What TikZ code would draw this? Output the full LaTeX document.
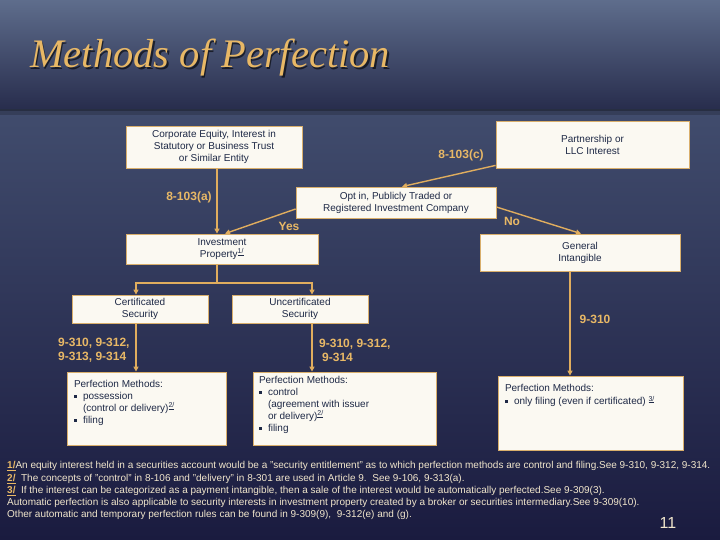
\documentclass[tikz,border=0pt]{standalone}
\usepackage{fontspec}
\setmainfont{Liberation Sans}
\newfontfamily\titlefont{Liberation Serif}
\usetikzlibrary{arrows.meta,positioning}

\definecolor{gold}{HTML}{E8B866}
\definecolor{wire}{HTML}{E0AD5E}
\definecolor{ink}{HTML}{1E2946}
\definecolor{paper}{HTML}{FBF9F2}
\definecolor{rim}{HTML}{D9AF6C}
\definecolor{cream}{HTML}{F1E6CC}
\definecolor{bannertop}{HTML}{5E6D8C}
\definecolor{bannerbot}{HTML}{282D4D}
\definecolor{bgtop}{HTML}{4B5979}
\definecolor{bgbot}{HTML}{1A1B3F}

\newcommand{\boxfont}{\fontsize{10bp}{12bp}\selectfont}
\newcommand{\lblfont}{\bfseries\fontsize{12bp}{14bp}\selectfont}
\newcommand{\notefont}{\fontsize{10bp}{12.2bp}\selectfont}
\newcommand{\blt}{\makebox[9bp][l]{\rule[1.5bp]{3bp}{3bp}}}
\newcommand{\ind}{\hspace*{9bp}}
\newcommand{\fnsup}[1]{\textsuperscript{\underline{#1}}}
\newcommand{\fnmark}[1]{{\bfseries\color{gold}\underline{#1}}}
\newcommand{\pmbody}[4]{\parbox[c][#1][t]{#2}{\raggedright\vspace*{#3}\strut#4}}

\begin{document}
\begin{tikzpicture}[x=1bp,y=-1bp]
  \tikzset{every node/.style={inner sep=0pt}}
  \tikzset{frame/.style={draw=rim, line width=0.8bp, fill=paper, text=ink, font=\boxfont}}
  \tikzset{box/.style={frame, align=center}}
  \tikzset{pmbox/.style={frame}}
  \tikzset{lbl/.style={text=gold, font=\lblfont, align=left}}
  \tikzset{link/.style={wire, line width=1.4bp}}
  \tikzset{arr/.style={link, -{Triangle[length=5bp,width=5bp]}}}

  \useasboundingbox (0,0) rectangle (720,540);
  \shade[top color=bgtop, bottom color=bgbot] (0,0) rectangle (720,540);
  \fill[black, opacity=.18] (0,108) rectangle (720,115);
  \fill[black, opacity=.25] (0,108) rectangle (720,111);
  \shade[top color=bannertop, bottom color=bannerbot] (0,0) rectangle (720,109);

  \node[anchor=base west, text=black, opacity=.6, font=\titlefont\itshape\fontsize{40.5bp}{40.5bp}\selectfont] (titleshadow) at (31.5,69.5) {Methods of Perfection};
  \node[anchor=base west, text=gold, font=\titlefont\itshape\fontsize{40.5bp}{40.5bp}\selectfont] (title) at (30,68) {Methods of Perfection};

  \node[box, minimum width=176bp, minimum height=42bp] (corp) at (214,147) {Corporate Equity, Interest in\\Statutory or Business Trust\\or Similar Entity};
  \node[box, minimum width=193bp, minimum height=47bp] (part) at (592.5,144.5) {Partnership or\\ LLC Interest};
  \node[box, minimum width=200bp, minimum height=31bp] (optin) at (396,202.5) {Opt in, Publicly Traded or\\Registered Investment Company};
  \node[box, minimum width=192bp, minimum height=30bp] (invp) at (222,249) {Investment\\Property\fnsup{1/}};
  \node[box, minimum width=200bp, minimum height=37bp] (genint) at (580,252.5) {General\\Intangible};
  \node[box, minimum width=136bp, minimum height=28bp] (cert) at (140,309) {Certificated\\Security};
  \node[box, minimum width=136bp, minimum height=28bp] (uncert) at (300,309) {Uncertificated\\Security};

  \node[pmbox, minimum width=159bp] (pm1) at (146.5,408.5) {\pmbody{73bp}{145bp}{7bp}{Perfection Methods:\\\blt possession\\\ind(control or delivery)\fnsup{2/}\\\blt filing}};
  \node[pmbox, minimum width=183bp] (pm2) at (344.5,408.5) {\pmbody{73bp}{171bp}{3bp}{Perfection Methods:\\\blt control\\\ind(agreement with issuer\\\ind or delivery)\fnsup{2/}\\\blt filing}};
  \node[pmbox, minimum width=185bp] (pm3) at (590.5,413) {\pmbody{74bp}{171bp}{7bp}{Perfection Methods:\\\blt only filing (even if certificated) \fnsup{3/}}};

  \coordinate (stem) at (217,283);

  \draw[arr] (corp.south -| stem) -- (invp.north -| stem);
  \draw[arr] ([yshift=3bp]part.south west) -- ([xshift=6bp]optin.north);
  \draw[arr] ([yshift=-6.5bp]optin.west) -- ([xshift=3bp]invp.north);
  \draw[arr] ([yshift=-4.5bp]optin.east) -- ([xshift=1bp]genint.north);
  \draw[link] (invp.south -| stem) -- (stem);
  \draw[arr] (stem) -| ([xshift=-4bp]cert.north);
  \draw[arr] (stem) -| ([xshift=12bp]uncert.north);
  \draw[arr] ([xshift=-4bp]cert.south) -- ([xshift=-4bp]cert.south |- pm1.north);
  \draw[arr] ([xshift=12bp]uncert.south) -- ([xshift=12bp]uncert.south |- pm2.north);
  \draw[arr] ([xshift=-10bp]genint.south) -- ([xshift=-10bp]genint.south |- pm3.north);

  \node[lbl] (lc) at (461,155) {8-103(c)};
  \node[lbl] (la) at (189,197) {8-103(a)};
  \node[lbl] (lyes) at (289,226) {Yes};
  \node[lbl] (lno) at (512,221) {No};
  \node[lbl, anchor=west] (lcert) at (58,350) {9-310, 9-312,\\9-313, 9-314};
  \node[lbl, anchor=west] (luncert) at (319,350) {9-310, 9-312,\\\hspace*{3bp}9-314};
  \node[lbl] (lgen) at (595,319) {9-310};

  \node[anchor=north west, text=cream, font=\notefont, align=left] (notes) at (7,461.5) {%
    \fnmark{1/}An equity interest held in a securities account would be a "security entitlement" as to which perfection methods are control and filing.See 9-310, 9-312, 9-314.\\
    \fnmark{2/}\ \ The concepts of "control" in 8-106 and "delivery" in 8-301 are used in Article 9.\ \ See 9-106, 9-313(a).\\
    \fnmark{3/}\ \ If the interest can be categorized as a payment intangible, then a sale of the interest would be automatically perfected.See 9-309(3).\\
    Automatic perfection is also applicable to security interests in investment property created by a broker or securities intermediary.See 9-309(10).\\
    Other automatic and temporary perfection rules can be found in 9-309(9),\ \ 9-312(e) and (g).};
  \node[text=cream, font=\fontsize{16bp}{16bp}\selectfont] (pagenum) at (668,523) {11};
\end{tikzpicture}
\end{document}
